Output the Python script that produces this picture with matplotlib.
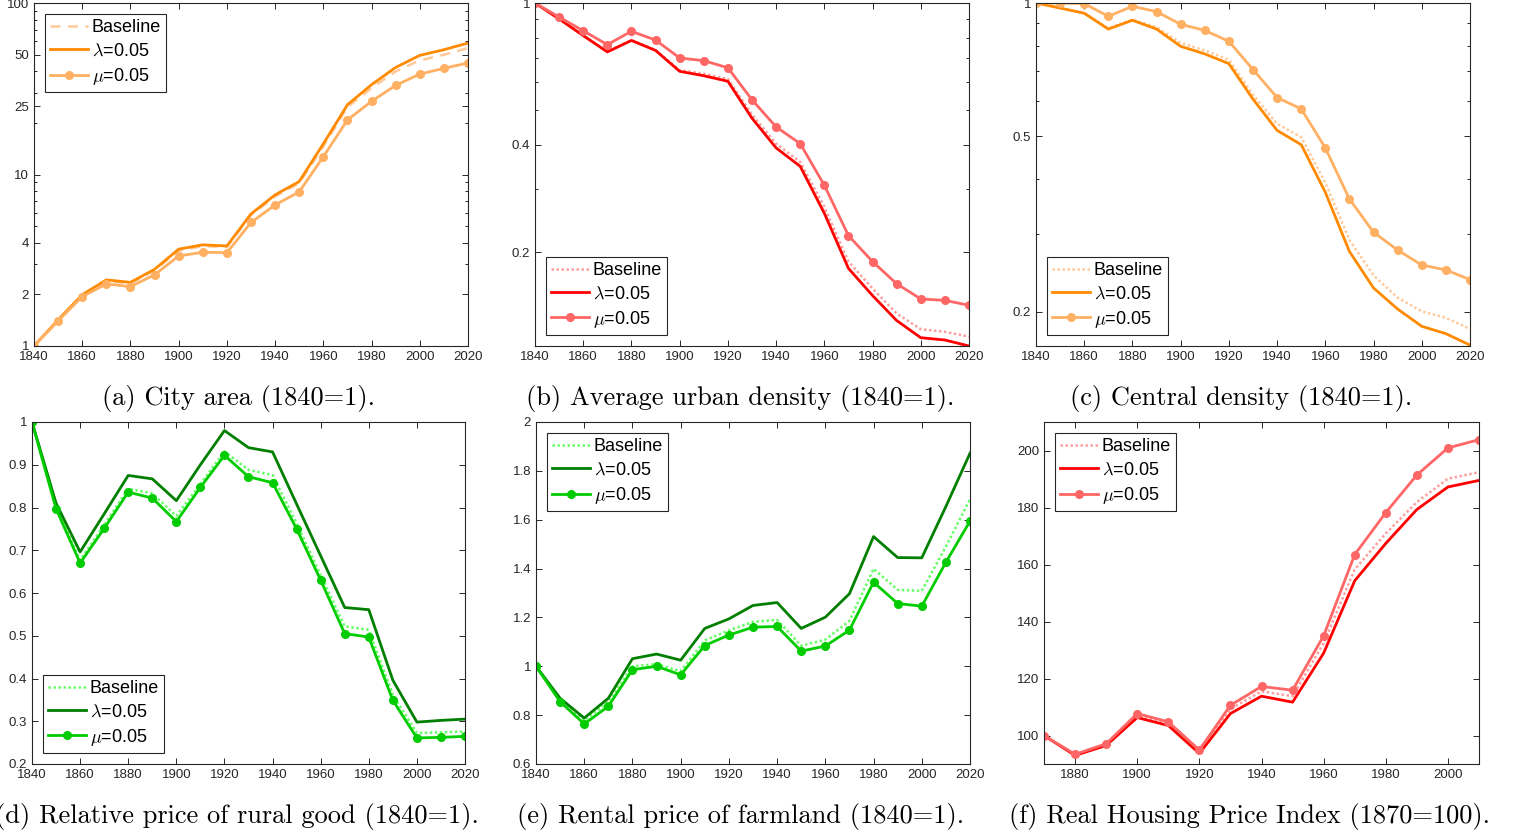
import numpy as np
import matplotlib
matplotlib.use("Agg")
import matplotlib.pyplot as plt
from matplotlib.ticker import LogLocator, NullFormatter

plt.rcParams['font.family'] = ['Liberation Sans', 'DejaVu Sans']
plt.rcParams['mathtext.fontset'] = 'cm'

years = list(range(1840, 2030, 10))
years_f = list(range(1870, 2020, 10))

# (a) City area
area_base = [1, 1.41, 1.96, 2.39, 2.31, 2.76, 3.60, 3.82, 3.78, 5.80, 7.44, 8.90, 14.6, 24.7, 31.9, 39.9, 46.3, 49.9, 54.6]
area_lam = [1, 1.42, 1.99, 2.43, 2.35, 2.80, 3.67, 3.89, 3.83, 5.89, 7.61, 9.10, 15.1, 25.5, 33.4, 42.1, 49.5, 53.4, 58.4]
area_mu = [1, 1.40, 1.94, 2.30, 2.22, 2.60, 3.35, 3.52, 3.50, 5.25, 6.65, 7.92, 12.7, 20.8, 26.7, 33.1, 38.5, 41.6, 44.7]

# (b) Average urban density
dens_base = [1, 0.903, 0.812, 0.731, 0.787, 0.738, 0.648, 0.633, 0.612, 0.486, 0.403, 0.358, 0.268, 0.188, 0.158, 0.1345, 0.1215, 0.1195, 0.1158]
dens_lam = [1, 0.902, 0.810, 0.729, 0.785, 0.736, 0.643, 0.625, 0.603, 0.475, 0.392, 0.348, 0.257, 0.180, 0.151, 0.1285, 0.115, 0.1133, 0.109]
dens_mu = [1, 0.913, 0.836, 0.764, 0.833, 0.787, 0.701, 0.689, 0.658, 0.535, 0.449, 0.403, 0.308, 0.2225, 0.188, 0.163, 0.1477, 0.1464, 0.1418]

# (c) Central density
cden_base = [1, 0.975, 0.950, 0.876, 0.917, 0.882, 0.812, 0.781, 0.744, 0.620, 0.533, 0.497, 0.392, 0.291, 0.242, 0.2155, 0.2006, 0.194, 0.183]
cden_lam = [1, 0.974, 0.948, 0.873, 0.914, 0.873, 0.798, 0.767, 0.729, 0.606, 0.515, 0.478, 0.373, 0.274, 0.2266, 0.203, 0.1856, 0.1786, 0.1683]
cden_mu = [1, 1.0, 0.997, 0.933, 0.983, 0.956, 0.895, 0.867, 0.819, 0.707, 0.611, 0.576, 0.470, 0.360, 0.303, 0.276, 0.2554, 0.249, 0.2366]

# (d) Relative price of rural good
rural_base = [1, 0.802, 0.677, 0.759, 0.844, 0.833, 0.780, 0.855, 0.931, 0.888, 0.876, 0.763, 0.642, 0.522, 0.514, 0.362, 0.2725, 0.274, 0.276]
rural_lam = [1, 0.81, 0.696, 0.785, 0.875, 0.867, 0.816, 0.900, 0.980, 0.940, 0.930, 0.808, 0.687, 0.566, 0.561, 0.396, 0.298, 0.302, 0.305]
rural_mu = [1, 0.797, 0.670, 0.751, 0.836, 0.822, 0.767, 0.847, 0.922, 0.872, 0.858, 0.750, 0.630, 0.505, 0.497, 0.349, 0.261, 0.2623, 0.2647]

# (e) Rental price of farmland
farm_base = [1, 0.863, 0.779, 0.852, 1.0, 1.009, 0.980, 1.106, 1.147, 1.182, 1.190, 1.084, 1.109, 1.186, 1.399, 1.313, 1.309, 1.490, 1.684]
farm_lam = [1, 0.869, 0.788, 0.869, 1.031, 1.050, 1.025, 1.155, 1.194, 1.249, 1.261, 1.155, 1.201, 1.297, 1.531, 1.445, 1.444, 1.654, 1.872]
farm_mu = [1, 0.855, 0.764, 0.836, 0.986, 1.0, 0.965, 1.085, 1.128, 1.160, 1.163, 1.062, 1.083, 1.148, 1.344, 1.257, 1.246, 1.426, 1.594]

# (f) Real housing price index
hpi_base = [100, 93.2, 96.9, 107.1, 104.2, 94.3, 109.3, 115.5, 113.8, 132.4, 158.3, 170.9, 181.9, 190.1, 192.4]
hpi_lam = [100, 93.0, 96.5, 106.3, 103.5, 93.7, 107.7, 113.8, 111.7, 128.9, 154.3, 167.4, 179.3, 187.2, 189.5]
hpi_mu = [100, 93.4, 97.1, 107.7, 104.8, 94.9, 110.6, 117.2, 115.9, 135.0, 163.5, 178.2, 191.4, 200.9, 203.8]

captions = ["(a) City area (1840=1).",
            "(b) Average urban density (1840=1).",
            "(c) Central density (1840=1).",
            "(d) Relative price of rural good (1840=1).",
            "(e) Rental price of farmland (1840=1).",
            "(f) Real Housing Price Index (1870=100)."]

ORANGE = ('#FF8A00', '#FFB062', '#FFC99A')
RED = ('#FF0000', '#FF6666', '#FF9E9E')
GREEN = ('#007F00', '#00CC00', '#66FF66')

W, H = 1518, 836
fig = plt.figure(figsize=(W / 100, H / 100), dpi=100)

# pixel boxes: left, top, right, bottom
boxes = [(34, 3, 468, 346), (535, 3, 969, 346), (1036, 3, 1470, 346),
         (32, 422, 465, 764), (536, 422, 970, 764), (1044, 422, 1479, 764)]


def make_ax(box):
    l, t, r, b = box
    ax = fig.add_axes([l / W, 1 - b / H, (r - l) / W, (b - t) / H])
    for s in ax.spines.values():
        s.set_color('#262626')
        s.set_linewidth(0.8)
    ax.tick_params(which='both', direction='in', top=True, right=True,
                   labelsize=9.5, colors='#262626', width=0.7)
    ax.tick_params(which='major', length=4.5)
    ax.tick_params(which='minor', length=2.5)
    return ax


def draw(ax, x, base, lam, mu, cols, base_ls, loc):
    ax.plot(x, base, color=cols[2], lw=1.8, ls=base_ls, label='Baseline')
    ax.plot(x, lam, color=cols[0], lw=2.0, label=r'$\lambda$=0.05')
    ax.plot(x, mu, color=cols[1], lw=2.0, marker='o', ms=5.5, label=r'$\mu$=0.05')
    leg = ax.legend(loc=loc, fontsize=13, frameon=True, fancybox=False,
                    framealpha=1, edgecolor='#262626', handlelength=2.1,
                    handletextpad=0.2, borderpad=0.3, labelspacing=0.35,
                    borderaxespad=0.6)
    leg.get_frame().set_linewidth(0.8)


def year_axis(ax):
    ax.set_xlim(1840, 2020)
    ax.set_xticks(range(1840, 2021, 20))


# (a)
ax = make_ax(boxes[0])
draw(ax, years, area_base, area_lam, area_mu, ORANGE, (0, (4, 3)), 'upper left')
ax.set_yscale('log')
ax.set_ylim(1, 100)
ax.set_yticks([1, 2, 4, 10, 25, 50, 100], labels=['1', '2', '4', '10', '25', '50', '100'])
ax.yaxis.set_minor_locator(LogLocator(subs=np.arange(2, 10)))
ax.yaxis.set_minor_formatter(NullFormatter())
year_axis(ax)

# (b)
ax = make_ax(boxes[1])
draw(ax, years, dens_base, dens_lam, dens_mu, RED, (0, (1, 1)), 'lower left')
ax.set_yscale('log')
ax.set_ylim(0.109, 1)
ax.set_yticks([0.2, 0.4, 1], labels=['0.2', '0.4', '1'])
ax.yaxis.set_minor_locator(LogLocator(subs=np.arange(1, 10)))
ax.yaxis.set_minor_formatter(NullFormatter())
year_axis(ax)

# (c)
ax = make_ax(boxes[2])
draw(ax, years, cden_base, cden_lam, cden_mu, ORANGE, (0, (1, 1)), 'lower left')
ax.set_yscale('log')
ax.set_ylim(0.1675, 1)
ax.set_yticks([0.2, 0.5, 1], labels=['0.2', '0.5', '1'])
ax.yaxis.set_minor_locator(LogLocator(subs=np.arange(1, 10)))
ax.yaxis.set_minor_formatter(NullFormatter())
year_axis(ax)

# (d)
ax = make_ax(boxes[3])
draw(ax, years, rural_base, rural_lam, rural_mu, GREEN, (0, (1, 1)), 'lower left')
ax.set_ylim(0.2, 1)
ax.set_yticks(np.round(np.arange(0.2, 1.01, 0.1), 1),
              labels=['0.2', '0.3', '0.4', '0.5', '0.6', '0.7', '0.8', '0.9', '1'])
year_axis(ax)

# (e)
ax = make_ax(boxes[4])
draw(ax, years, farm_base, farm_lam, farm_mu, GREEN, (0, (1, 1)), 'upper left')
ax.set_ylim(0.6, 2)
ax.set_yticks(np.round(np.arange(0.6, 2.01, 0.2), 1),
              labels=['0.6', '0.8', '1', '1.2', '1.4', '1.6', '1.8', '2'])
year_axis(ax)

# (f)
ax = make_ax(boxes[5])
draw(ax, years_f, hpi_base, hpi_lam, hpi_mu, RED, (0, (1, 1)), 'upper left')
ax.set_xlim(1870, 2010)
ax.set_xticks(range(1880, 2001, 20))
ax.set_ylim(90, 210)
ax.set_yticks(range(100, 201, 20))

# captions under each panel
for box, cap in zip(boxes, captions):
    l, t, r, b = box
    yc = 398 if t < 100 else 816
    fig.text(((l + r) / 2 - 12) / W, 1 - yc / H, cap, ha='center', va='center',
             fontsize=19, family='cmr10')

fig.savefig('out.png', dpi=100)
